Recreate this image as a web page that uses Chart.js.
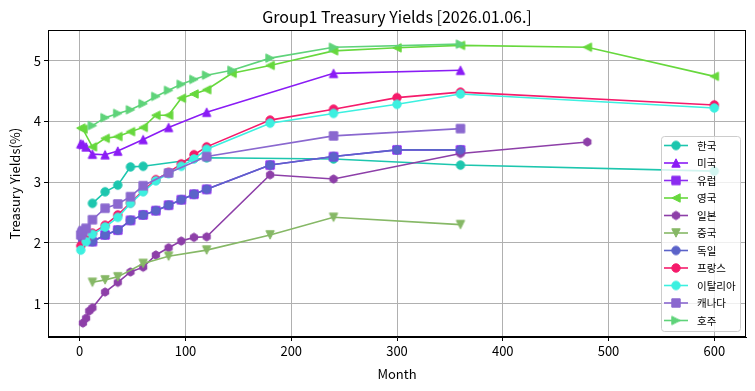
<!DOCTYPE html>
<html><head><meta charset="utf-8">
<script src="https://cdn.jsdelivr.net/npm/chart.js@4.4.1/dist/chart.umd.min.js"></script>
<style>html,body{margin:0;padding:0;background:#fff}</style>
</head><body>
<canvas id="c" width="755" height="391"></canvas>
<script>
// ---- data ----
const chartTitle = 'Group1 Treasury Yields [2026.01.06.]';
const xTicks = [0, 100, 200, 300, 400, 500, 600];
const yTicks = [1, 2, 3, 4, 5];
const seriesNames = ['한국','미국','유럽','영국','일본','중국','독일','프랑스','이탈리아','캐나다','호주'];

const krMonths = [12, 24, 36, 48, 60, 120, 240, 360, 600];
const krYields = [2.65, 2.84, 2.95, 3.25, 3.26, 3.40, 3.38, 3.28, 3.18];

const usMonths = [1, 3, 6, 12, 24, 36, 60, 84, 120, 240, 360];
const usYields = [3.63, 3.62, 3.58, 3.46, 3.45, 3.51, 3.70, 3.90, 4.15, 4.79, 4.84];

const euMonths = [3, 12, 24, 36, 48, 60, 72, 84, 96, 108, 120, 180, 240, 300, 360];
const euYields = [2.04, 2.02, 2.13, 2.21, 2.37, 2.46, 2.53, 2.62, 2.71, 2.80, 2.88, 3.28, 3.42, 3.53, 3.53];

const ukMonths = [1, 3, 12, 24, 36, 48, 60, 72, 84, 96, 108, 120, 144, 180, 240, 300, 360, 480, 600];
const ukYields = [3.89, 3.87, 3.58, 3.72, 3.75, 3.83, 3.90, 4.10, 4.10, 4.38, 4.45, 4.52, 4.79, 4.92, 5.16, 5.21, 5.25, 5.22, 4.74];

const jpMonths = [3, 6, 9, 12, 24, 36, 48, 60, 72, 84, 96, 108, 120, 180, 240, 360, 480];
const jpYields = [0.68, 0.76, 0.88, 0.93, 1.19, 1.35, 1.52, 1.60, 1.80, 1.92, 2.03, 2.09, 2.10, 3.12, 3.05, 3.47, 3.66];

const cnMonths = [12, 24, 36, 60, 84, 120, 180, 240, 360];
const cnYields = [1.35, 1.39, 1.44, 1.66, 1.78, 1.88, 2.13, 2.42, 2.30];

const deMonths = [3, 12, 24, 36, 48, 60, 72, 84, 96, 108, 120, 180, 240, 300, 360];
const deYields = [2.04, 2.02, 2.13, 2.21, 2.37, 2.46, 2.53, 2.62, 2.71, 2.80, 2.88, 3.28, 3.42, 3.53, 3.53];

const frMonths = [1, 6, 12, 24, 36, 48, 60, 72, 84, 96, 108, 120, 180, 240, 300, 360, 600];
const frYields = [1.95, 2.05, 2.16, 2.29, 2.46, 2.66, 2.86, 3.04, 3.16, 3.30, 3.45, 3.58, 4.02, 4.20, 4.39, 4.48, 4.27];

const itMonths = [1, 6, 12, 24, 36, 48, 60, 72, 84, 96, 108, 120, 180, 240, 300, 360, 600];
const itYields = [1.88, 2.02, 2.14, 2.26, 2.42, 2.65, 2.84, 3.02, 3.14, 3.26, 3.38, 3.54, 3.97, 4.13, 4.28, 4.45, 4.22];

const caMonths = [1, 2, 3, 6, 12, 24, 36, 48, 60, 84, 120, 240, 360];
const caYields = [2.13, 2.17, 2.20, 2.24, 2.38, 2.57, 2.64, 2.76, 2.94, 3.15, 3.42, 3.76, 3.88];

const auMonths = [12, 24, 36, 48, 60, 72, 84, 96, 108, 120, 144, 180, 240, 360];
const auYields = [3.93, 4.06, 4.13, 4.19, 4.29, 4.41, 4.51, 4.61, 4.69, 4.76, 4.84, 5.04, 5.22, 5.27];

const allMonths = [krMonths, usMonths, euMonths, ukMonths, jpMonths, cnMonths, deMonths, frMonths, itMonths, caMonths, auMonths];
const allYields = [krYields, usYields, euYields, ukYields, jpYields, cnYields, deYields, frYields, itYields, caYields, auYields];

// ---- styles ----
const colors = ['#1dc6ae','#8a1cf5','#8b2cf0','#67d83d','#8d3fa8','#86b866','#5b63c9','#f51b6b','#3cf0e0','#8a68cf','#5fd37a'];
const markers = ['o','^','s','<','h','v','o','o','o','s','>'];
const FONT = '"Noto Sans CJK KR", "Noto Sans", sans-serif';
const MS = 8.4;

function makeMarker(shape, color) {
  const size = 16, c = document.createElement('canvas');
  c.width = size; c.height = size;
  const g = c.getContext('2d');
  const cx = size / 2, cy = size / 2, h = MS / 2;
  g.beginPath();
  if (shape === 'o') {
    g.arc(cx, cy, h, 0, Math.PI * 2);
  } else if (shape === 's') {
    g.rect(cx - h, cy - h, MS, MS);
  } else if (shape === '^') {
    g.moveTo(cx, cy - h); g.lineTo(cx - h, cy + h); g.lineTo(cx + h, cy + h);
  } else if (shape === 'v') {
    g.moveTo(cx, cy + h); g.lineTo(cx - h, cy - h); g.lineTo(cx + h, cy - h);
  } else if (shape === '<') {
    g.moveTo(cx - h, cy); g.lineTo(cx + h, cy - h); g.lineTo(cx + h, cy + h);
  } else if (shape === '>') {
    g.moveTo(cx + h, cy); g.lineTo(cx - h, cy - h); g.lineTo(cx - h, cy + h);
  } else if (shape === 'h') {
    for (let k = 0; k < 6; k++) {
      const a = -Math.PI / 2 + k * Math.PI / 3;
      const px = cx + h * Math.cos(a), py = cy + h * Math.sin(a);
      if (k === 0) g.moveTo(px, py); else g.lineTo(px, py);
    }
  }
  g.closePath();
  g.fillStyle = color; g.fill();
  g.lineWidth = 1; g.strokeStyle = color; g.stroke();
  return c;
}
const markerImgs = colors.map((c, i) => makeMarker(markers[i], c));

const datasets = seriesNames.map((name, i) => ({
  label: name,
  data: allMonths[i].map((m, k) => ({ x: m, y: allYields[i][k] })),
  borderColor: colors[i],
  backgroundColor: colors[i],
  borderWidth: 1.6,
  pointStyle: markerImgs[i],
  pointRadius: 5,
  pointHoverRadius: 5,
  tension: 0,
  order: seriesNames.length - i
}));

const framePlugin = {
  id: 'frame',
  afterDatasetsDraw(chart) {
    const a = chart.chartArea, ctx = chart.ctx;
    ctx.save();
    ctx.strokeStyle = '#000'; ctx.lineWidth = 1;
    ctx.strokeRect(Math.round(a.left) + 0.5, Math.round(a.top) + 0.5, Math.round(a.right - a.left) - 1, Math.round(a.bottom - a.top) - 1);
    ctx.restore();
  }
};

const legendPlugin = {
  id: 'mplLegend',
  afterDraw(chart) {
    const ctx = chart.ctx;
    const bx = 661.5, by = 136.5, bw = 79, bh = 195, r = 3;
    ctx.save();
    ctx.beginPath();
    ctx.moveTo(bx + r, by); ctx.lineTo(bx + bw - r, by); ctx.quadraticCurveTo(bx + bw, by, bx + bw, by + r);
    ctx.lineTo(bx + bw, by + bh - r); ctx.quadraticCurveTo(bx + bw, by + bh, bx + bw - r, by + bh);
    ctx.lineTo(bx + r, by + bh); ctx.quadraticCurveTo(bx, by + bh, bx, by + bh - r);
    ctx.lineTo(bx, by + r); ctx.quadraticCurveTo(bx, by, bx + r, by);
    ctx.closePath();
    ctx.fillStyle = 'rgba(255,255,255,0.8)'; ctx.fill();
    ctx.strokeStyle = '#cccccc'; ctx.lineWidth = 1; ctx.stroke();
    ctx.font = '10.5px ' + FONT;
    ctx.textBaseline = 'middle'; ctx.textAlign = 'left';
    seriesNames.forEach((name, i) => {
      const cy = 145.5 + i * 17.5;
      ctx.strokeStyle = colors[i]; ctx.lineWidth = 1.6;
      ctx.beginPath(); ctx.moveTo(664, cy); ctx.lineTo(688, cy); ctx.stroke();
      const img = markerImgs[i];
      ctx.drawImage(img, 676 - img.width / 2, cy - img.height / 2);
      ctx.fillStyle = '#000';
      ctx.fillText(name, 697, cy + 0.5);
    });
    ctx.restore();
  }
};

new Chart(document.getElementById('c'), {
  type: 'line',
  data: { datasets },
  plugins: [framePlugin, legendPlugin],
  options: {
    responsive: false, animation: false, devicePixelRatio: 1,
    layout: { padding: { left: 0, right: 9, top: 0, bottom: 0 } },
    plugins: {
      legend: { display: false },
      tooltip: { enabled: false },
      title: { display: true, text: chartTitle, fullSize: false, color: '#000',
               font: { family: FONT, size: 16, weight: 'normal' }, padding: { top: 7, bottom: 4 } }
    },
    scales: {
      x: {
        type: 'linear', min: -30, max: 630,
        afterBuildTicks: s => { s.ticks = xTicks.map(v => ({ value: v })); },
        afterFit: s => { s.height = 54; },
        grid: { color: '#b0b0b0', lineWidth: 1, tickLength: 4, tickColor: '#000', drawTicks: true },
        border: { display: true, color: '#000', width: 1 },
        ticks: { font: { family: FONT, size: 13 }, color: '#000', padding: 2, maxRotation: 0, callback: v => String(v) },
        title: { display: true, text: 'Month', color: '#000', font: { family: FONT, size: 13 }, padding: { top: 0, bottom: 9 } }
      },
      y: {
        type: 'linear', min: 0.45, max: 5.5,
        afterBuildTicks: s => { s.ticks = yTicks.map(v => ({ value: v })); },
        afterFit: s => { s.width = 48; },
        grid: { color: '#b0b0b0', lineWidth: 1, tickLength: 4, tickColor: '#000', drawTicks: true },
        border: { display: true, color: '#000', width: 1 },
        ticks: { font: { family: FONT, size: 13 }, color: '#000', padding: 3, callback: v => String(v) },
        title: { display: true, text: 'Treasury Yields(%)', color: '#000', font: { family: FONT, size: 13 }, padding: { top: 7, bottom: 0 } }
      }
    }
  }
});
</script>
</body></html>
